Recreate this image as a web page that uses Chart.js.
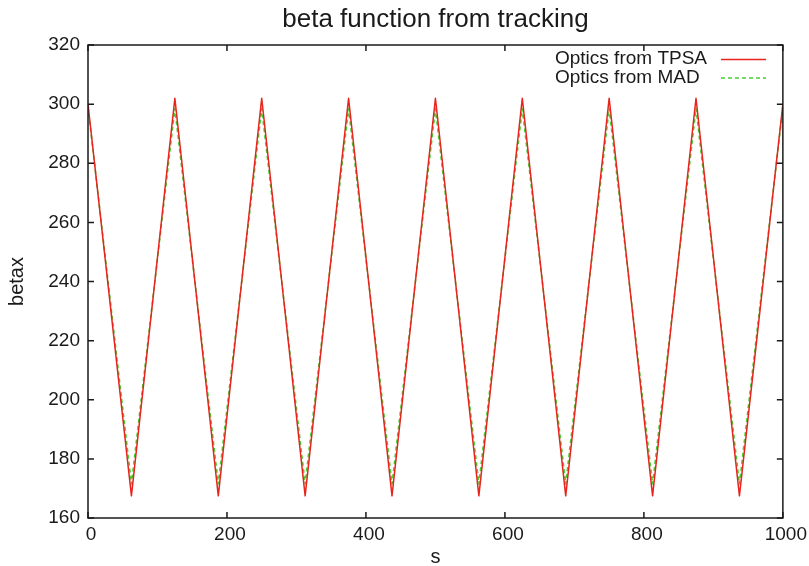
<!DOCTYPE html>
<html>
<head>
<meta charset="utf-8">
<script src="https://cdn.jsdelivr.net/npm/chart.js@4.4.0/dist/chart.umd.min.js"></script>
<style>
  html, body { margin: 0; padding: 0; background: #fff; }
  #wrap { width: 809px; height: 566px; }
</style>
</head>
<body>
<div id="wrap"><canvas id="myChart" width="809" height="566"></canvas></div>
<script>
// s positions of the vertices (peaks and valleys)
var sPos = [0, 62.5, 125, 187.5, 250, 312.5, 375, 437.5, 500, 562.5, 625, 687.5, 750, 812.5, 875, 937.5, 1000];
var betaTPSA = [300, 167.5, 302, 167.5, 302, 167.5, 302, 167.5, 302, 167.5, 302, 167.5, 302, 167.5, 302, 167.5, 300];
var betaMAD  = [299, 171.5, 298.5, 171.5, 298.5, 171.5, 298.5, 171.5, 298.5, 171.5, 298.5, 171.5, 298.5, 171.5, 298.5, 171.5, 299];
var xTicks = [0, 200, 400, 600, 800, 1000];
var yTicks = [160, 180, 200, 220, 240, 260, 280, 300, 320];
var legendNames = ['Optics from TPSA', 'Optics from MAD'];

var redCol = 'rgb(232,36,28)';
var greenCol = 'rgb(72,206,52)';
var fontFam = '"Liberation Sans", Arial, sans-serif';
var ink = '#1a1a1a';

function toPts(ys) {
  var out = [];
  for (var i = 0; i < sPos.length; i++) out.push({x: sPos[i], y: ys[i]});
  return out;
}

// frame + inward ticks on all four sides, gnuplot style, plus texts and key
var framePlugin = {
  id: 'frame',
  afterDatasetsDraw: function(chart) {
    var c = chart.ctx, a = chart.chartArea;
    var xs = chart.scales.x, ys = chart.scales.y;
    var tl = 6;
    c.save();
    c.strokeStyle = ink;
    c.lineWidth = 1.5;
    c.beginPath();
    xTicks.forEach(function(v) {
      var px = xs.getPixelForValue(v);
      c.moveTo(px, a.bottom); c.lineTo(px, a.bottom - tl);
      c.moveTo(px, a.top); c.lineTo(px, a.top + tl);
    });
    yTicks.forEach(function(v) {
      var py = ys.getPixelForValue(v);
      c.moveTo(a.left, py); c.lineTo(a.left + tl, py);
      c.moveTo(a.right, py); c.lineTo(a.right - tl, py);
    });
    c.stroke();
    c.strokeRect(a.left, a.top, a.right - a.left, a.bottom - a.top);
    c.restore();
  },
  afterDraw: function(chart) {
    var c = chart.ctx, a = chart.chartArea;
    var cx = (a.left + a.right) / 2;
    c.save();
    c.fillStyle = ink;
    // title
    c.font = '26px ' + fontFam;
    c.textAlign = 'center';
    c.textBaseline = 'alphabetic';
    c.fillText('beta function from tracking', cx, 26.5);
    // axis titles
    c.font = '20px ' + fontFam;
    c.fillText('s', cx, 563);
    c.save();
    c.translate(23, (a.top + a.bottom) / 2);
    c.rotate(-Math.PI / 2);
    c.fillText('betax', 0, 0);
    c.restore();
    // key in the upper right corner
    c.font = '19px ' + fontFam;
    c.textAlign = 'left';
    c.textBaseline = 'middle';
    var rows = [59, 77.5];
    var cols = [redCol, greenCol];
    var dash = [[], [4, 3]];
    for (var i = 0; i < legendNames.length; i++) {
      c.fillText(legendNames[i], 555, rows[i]);
      c.beginPath();
      c.strokeStyle = cols[i];
      c.lineWidth = 1.6;
      c.setLineDash(dash[i]);
      c.moveTo(721, rows[i] + 0.5); c.lineTo(766, rows[i] + 0.5);
      c.stroke();
    }
    c.restore();
  }
};

var ctx = document.getElementById('myChart');
var myChart = new Chart(ctx, {
  type: 'line',
  data: {
    datasets: [{
      label: legendNames[0],
      data: toPts(betaTPSA),
      borderColor: redCol,
      borderWidth: 1.5,
      borderJoinStyle: 'round',
      pointRadius: 0,
      fill: false,
      tension: 0
    }, {
      label: legendNames[1],
      data: toPts(betaMAD),
      borderColor: greenCol,
      borderWidth: 1.6,
      borderDash: [4, 3],
      borderJoinStyle: 'round',
      pointRadius: 0,
      fill: false,
      tension: 0
    }]
  },
  options: {
    responsive: false,
    animation: false,
    layout: { padding: { right: 24, left: 0, top: 45, bottom: 0 } },
    plugins: {
      legend: { display: false },
      tooltip: { enabled: false },
      title: { display: false }
    },
    scales: {
      x: {
        type: 'linear',
        min: 0, max: 1000,
        afterFit: function(s) { s.height = 48; },
        afterBuildTicks: function(s) { s.ticks = xTicks.map(function(v) { return {value: v}; }); },
        grid: { display: false, drawTicks: false },
        border: { display: false },
        ticks: {
          color: ink, padding: 5, maxRotation: 0, labelOffset: 3,
          callback: function(v) { return String(v); },
          font: { family: fontFam, size: 19 }
        }
      },
      y: {
        min: 160, max: 320,
        afterFit: function(s) { s.width = 88; },
        afterBuildTicks: function(s) { s.ticks = yTicks.map(function(v) { return {value: v}; }); },
        grid: { display: false, drawTicks: false },
        border: { display: false },
        ticks: {
          color: ink, padding: 8,
          callback: function(v) { return String(v); },
          font: { family: fontFam, size: 19 }
        }
      }
    }
  },
  plugins: [framePlugin]
});
</script>
</body>
</html>
